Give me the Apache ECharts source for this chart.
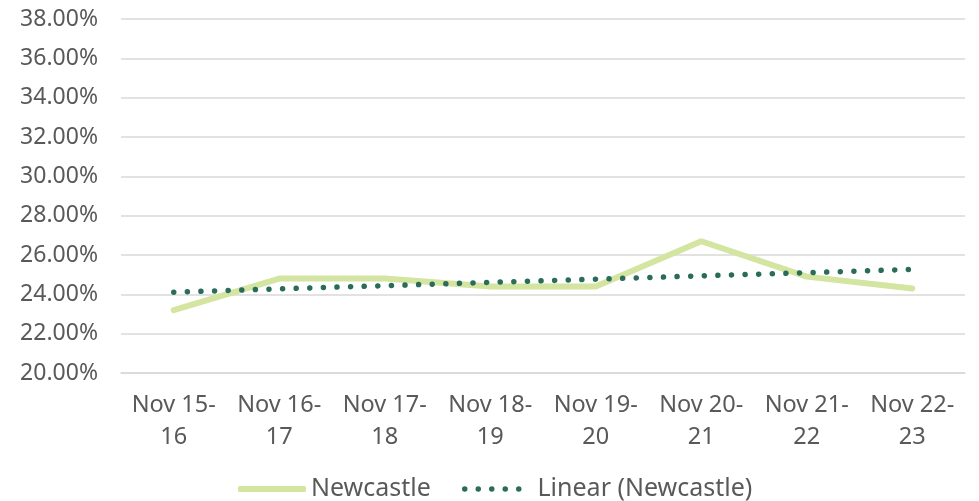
<!DOCTYPE html>
<html><head><meta charset="utf-8">
<script src="https://cdn.jsdelivr.net/npm/echarts@6/dist/echarts.min.js"></script>
<style>html,body{margin:0;padding:0;background:#fff}#c{width:979px;height:501px}</style>
</head><body><div id="c"></div>
<script>
const categories = ['Nov 15-\n16','Nov 16-\n17','Nov 17-\n18','Nov 18-\n19','Nov 19-\n20','Nov 20-\n21','Nov 21-\n22','Nov 22-\n23'];
const newcastle = [23.2, 24.8, 24.8, 24.4, 24.4, 26.7, 24.9, 24.3];
const linearTrend = [24.11, 24.28, 24.44, 24.61, 24.77, 24.94, 25.10, 25.27];
const yMin = 20, yMax = 38, yStep = 2;
const FONT = 'Noto Sans';
const TXT = '#595959';
const LINE_C = '#d3e5a0', TREND_C = '#2a6b5a';
// five-dot legend icon
let dots = '';
for (let i = 0; i < 5; i++) { const x = i * 13.5; dots += `M${x},2.75 a2.75,2.75 0 1,0 5.5,0 a2.75,2.75 0 1,0 -5.5,0 Z `; }
const chart = echarts.init(document.getElementById('c'));
chart.setOption({
  animation: false,
  grid: {left: 121, right: 14, top: 19, bottom: 128},
  xAxis: {
    type: 'category', data: categories, boundaryGap: true,
    axisLine: {show: true, lineStyle: {color: '#d9d9d9', width: 1.5}},
    axisTick: {show: false},
    axisLabel: {color: TXT, fontFamily: FONT, fontSize: 23.5, lineHeight: 32, margin: 16, interval: 0}
  },
  yAxis: {
    type: 'value', min: yMin, max: yMax, interval: yStep,
    axisLine: {show: false}, axisTick: {show: false},
    splitLine: {lineStyle: {color: '#d9d9d9', width: 1.5}},
    axisLabel: {color: TXT, fontFamily: FONT, fontSize: 23, margin: 23,
      formatter: v => v.toFixed(2) + '%'}
  },
  legend: [
    {data: [{name: 'Newcastle', icon: 'roundRect', itemStyle: {color: LINE_C}}], left: 233, top: 471,
     itemWidth: 68, itemHeight: 6, itemGap: 5,
     textStyle: {color: TXT, fontFamily: FONT, fontSize: 25, lineHeight: 26}},
    {data: [{name: 'Linear (Newcastle)', icon: 'path://' + dots, itemStyle: {color: TREND_C}}], left: 457, top: 471,
     itemWidth: 59.5, itemHeight: 5.5, itemGap: 14,
     textStyle: {color: TXT, fontFamily: FONT, fontSize: 25, lineHeight: 26, padding: [0, 0, 0, 11]}}
  ],
  series: [
    {name: 'Newcastle', type: 'line', data: newcastle, symbol: 'none',
     lineStyle: {color: LINE_C, width: 6, cap: 'round', join: 'round'}, itemStyle: {color: LINE_C}, z: 2},
    {name: 'Linear (Newcastle)', type: 'line', data: linearTrend, symbol: 'none',
     lineStyle: {color: TREND_C, width: 5.5, type: [0.01, 13.6], cap: 'round'}, itemStyle: {color: TREND_C}, z: 3}
  ]
});
</script></body></html>
